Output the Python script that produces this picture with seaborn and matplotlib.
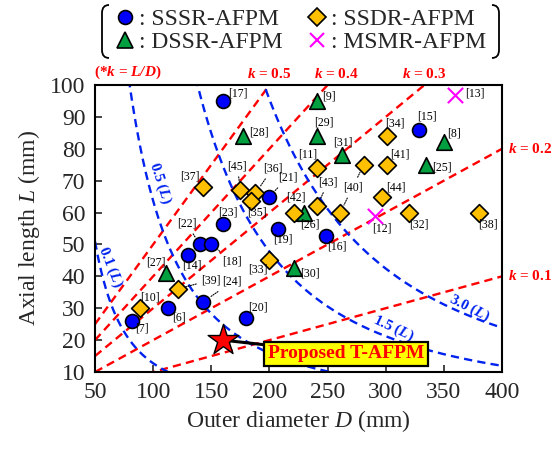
import numpy as np
import pandas as pd
import matplotlib
matplotlib.use("Agg")
import matplotlib.pyplot as plt
from matplotlib.lines import Line2D
from matplotlib.path import Path
from matplotlib.patches import PathPatch
import seaborn as sns

# ---------------- data ----------------
sssr_D = [160, 200, 160, 140, 150, 130, 143, 113, 82, 180, 207, 249, 329]
sssr_L = [95, 65, 56.5, 50, 50, 46.7, 32, 30, 26, 27, 55, 52.5, 86]
sssr_ref = ['[17]', '[21]', '[23]', '[22]', '[18]', '[14]', '[24]', '[6]', '[7]',
            '[20]', '[19]', '[16]', '[15]']

dssr_D = [177, 241, 241, 262, 350, 335, 230, 221, 111]
dssr_L = [84, 95, 84, 78, 82, 75, 60, 42.5, 41]
dssr_ref = ['[28]', '[9]', '[29]', '[31]', '[8]', '[25]', '[26]', '[30]', '[27]']

ssdr_D = [143, 175, 188, 184, 221, 241, 241, 281, 261, 301, 301, 297, 320, 380, 200, 121, 89]
ssdr_L = [68, 67, 66, 63.5, 60, 74, 62, 75, 60, 84, 75, 65, 60, 60, 45, 36, 30]
ssdr_ref = ['[37]', '[45]', '[36]', '[35]', '[42]', '[11]', '[43]', '[40]', '[40]',
            '[34]', '[41]', '[44]', '[32]', '[38]', '[33]', '[39]', '[10]']

msmr_D = [360, 291]
msmr_L = [97, 59]
msmr_ref = ['[13]', '[12]']

proposed_D = [160]
proposed_L = [20]
proposed_label = 'Proposed T-AFPM'

k_values = [0.1, 0.2, 0.3, 0.4, 0.5]
volumes = [0.1, 0.5, 1.5, 3.0]   # litres

x_ticks = [50, 100, 150, 200, 250, 300, 350, 400]
y_ticks = [10, 20, 30, 40, 50, 60, 70, 80, 90, 100]

# ---------------- layout (label offsets in pixels: dx, dy-down, leader) ----------------
sssr_off = [(15, -7, 0), (18, -19, 1), (5, -11, 0), (-13, -21, 1), (21, 17, 1), (4, 11, 0),
            (29, -20, 1), (11, 9, 0), (10, 8, 0), (12, -10, 0), (5, 11, 0), (10, 10, 0), (8, -13, 0)]
dssr_off = [(16, -4, 0), (12, -4, 0), (7, -14, 0), (1, -13, 0), (10, -9, 0), (16, 3, 0),
            (6, 12, 0), (16, 5, 0), (-10, -11, 0)]
ssdr_off = [(-13, -11, 0), (-3, -24, 1), (17, -25, 1), (6, 11, 0), (2, -15, 0), (-9, -13, 0),
            (11, -24, 1), (-11, 23, 1), (12, -25, 1), (8, -13, 0), (13, -10, 0), (14, -9, 0),
            (10, 12, 0), (9, 12, 0), (-12, 9, 0), (33, -9, 1), (10, -11, 0)]
msmr_off = [(19, -1, 0), (7, 13, 0)]

# ---------------- style ----------------
sns.set_style("ticks")
plt.rcParams['font.family'] = ['Liberation Serif', 'DejaVu Serif']
plt.rcParams['mathtext.fontset'] = 'custom'
plt.rcParams['mathtext.rm'] = 'Liberation Serif'
plt.rcParams['mathtext.it'] = 'Liberation Serif:italic'
plt.rcParams['mathtext.bf'] = 'Liberation Serif:bold'
plt.rcParams['mathtext.bfit'] = 'Liberation Serif:italic:bold'

W, H = 552, 449
fig = plt.figure(figsize=(W / 100, H / 100), dpi=100)
ax = fig.add_axes([95 / W, 1 - 372 / H, (502 - 95) / W, (372 - 85) / H])
ax.set_xlim(50, 400)
ax.set_ylim(10, 100)

PX = 72 / 100.0  # pixels -> points

# reference lines k = L/D
Dgrid = np.linspace(50, 400, 400)
for k in k_values:
    sns.lineplot(x=Dgrid, y=k * Dgrid, ax=ax, color='red', lw=1.7,
                 linestyle=(0, (3.5, 2.2)), zorder=1, legend=False)

# constant-volume curves
Dgrid2 = np.linspace(50, 400, 800)
for v in volumes:
    Lc = v * 1e6 / (np.pi / 4 * Dgrid2 ** 2)
    sns.lineplot(x=Dgrid2, y=Lc, ax=ax, color='#0022ee', lw=1.7,
                 linestyle=(0, (3.5, 2.2)), zorder=1, legend=False)

# k labels
tk = dict(color='red', fontsize=11, fontweight='bold', annotation_clip=False)
for k in k_values:
    if k >= 0.3:
        dx = 6 if abs(k - 0.4) < 1e-9 else 0
        ax.annotate(r'$\mathbfit{k}$ = %.1f' % k, xy=(100 / k, 100), xytext=(dx, 3),
                    textcoords='offset points', ha='center', va='bottom', **tk)
    else:
        ax.annotate(r'$\mathbfit{k}$ = %.1f' % k, xy=(400, 400 * k), xytext=(4, 0),
                    textcoords='offset points', ha='left', va='center', **tk)
ax.annotate(r'(*$\mathbfit{k}$ = $\mathbfit{L/D}$)', xy=(50, 100), xytext=(-1, 3),
            textcoords='offset points', ha='left', va='bottom', **tk)

# volume labels
vol_lab = [(63, 43, -68), (106, 69.3, -72), (307, 23.6, -25), (372, 30.1, -27)]
for v, (xd, yd, rot) in zip(volumes, vol_lab):
    ax.text(xd, yd, r'%.1f ($\mathbfit{L}$)' % v, color='#0022ee', fontsize=11,
            fontweight='bold', rotation=rot,
            rotation_mode='anchor', ha='center', va='center', zorder=2)

# scatter series
series = [
    (sssr_D, sssr_L, 'o', '#0000ff', 100),
    (dssr_D, dssr_L, '^', '#00a040', 125),
    (ssdr_D, ssdr_L, 'D', '#ffc000', 82),
]
for Ds, Ls, mk, col, s in series:
    df = pd.DataFrame({'D': Ds, 'L': Ls})
    sns.scatterplot(data=df, x='D', y='L', marker=mk, color=col, s=s,
                    edgecolor='black', linewidth=1.2, ax=ax, zorder=4, legend=False)

dfm = pd.DataFrame({'D': msmr_D, 'L': msmr_L})
sns.scatterplot(data=dfm, x='D', y='L', marker='x', color='#ff00ff', s=120,
                linewidth=1.5, ax=ax, zorder=4, legend=False)

# reference labels
drawn = set()
for Ds, Ls, refs, offs in [(sssr_D, sssr_L, sssr_ref, sssr_off),
                           (dssr_D, dssr_L, dssr_ref, dssr_off),
                           (ssdr_D, ssdr_L, ssdr_ref, ssdr_off),
                           (msmr_D, msmr_L, msmr_ref, msmr_off)]:
    for d, l, r, (dx, dy, lead) in zip(Ds, Ls, refs, offs):
        col = 'none' if r in drawn else 'black'
        drawn.add(r)
        ap = dict(arrowstyle='-', linestyle=(0, (1, 1.2)), lw=0.8, color='black',
                  shrinkA=1, shrinkB=6) if lead else None
        ax.annotate(r, xy=(d, l), xytext=(dx * PX, -dy * PX), textcoords='offset points',
                    ha='center', va='center', fontsize=8.5, color=col,
                    arrowprops=ap, zorder=5)

# proposed
dfp = pd.DataFrame({'D': proposed_D, 'L': proposed_L})
sns.scatterplot(data=dfp, x='D', y='L', marker='*', color='red', s=540,
                edgecolor='black', linewidth=1.0, ax=ax, zorder=7, legend=False)
ax.annotate(proposed_label, xy=(proposed_D[0], proposed_L[0]),
            xytext=(123.3 * PX, -13.8 * PX), textcoords='offset points',
            ha='center', va='center', fontsize=14, fontweight='bold', color='red',
            bbox=dict(boxstyle='square,pad=0.2', fc='yellow', ec='black', lw=1.6),
            arrowprops=dict(arrowstyle='-', color='black', lw=2.2, shrinkA=0, shrinkB=4),
            zorder=6)

# axes styling
ax.set_xticks(x_ticks)
ax.set_yticks(y_ticks)
ax.tick_params(direction='in', length=5, width=1.2, labelsize=17, pad=7,
               top=False, right=False)
for sp in ax.spines.values():
    sp.set_linewidth(1.5)
    sp.set_color('black')
ax.set_xlabel(r'Outer diameter $D$ (mm)', fontsize=17, labelpad=4)
ax.set_ylabel(r'Axial length $L$ (mm)', fontsize=17, labelpad=6)

# legend
handles = [
    Line2D([], [], ls='none', marker='o', mfc='#0000ff', mec='black', mew=1.2, ms=10),
    Line2D([], [], ls='none', marker='^', mfc='#00a040', mec='black', mew=1.2, ms=11),
    Line2D([], [], ls='none', marker='D', mfc='#ffc000', mec='black', mew=1.2, ms=9),
    Line2D([], [], ls='none', marker='x', mec='#ff00ff', mew=1.5, ms=10),
]
labels = [': SSSR-AFPM', ': DSSR-AFPM', ': SSDR-AFPM', ': MSMR-AFPM']
fig.legend(handles, labels, ncol=2, loc='center', bbox_to_anchor=(300 / W, 1 - 31 / H),
           frameon=False, fontsize=17, handlelength=0.9, handletextpad=0.15,
           columnspacing=1.0, labelspacing=0.05, borderpad=0.0)

# parentheses around legend
def paren(x0, x1, y0, y1):
    r = 8
    verts = [(x1, y0), (x0, y0), (x0, y0 + r), (x0, y1 - r), (x0, y1), (x1, y1)]
    verts = [(x / W, 1 - y / H) for x, y in verts]
    codes = [Path.MOVETO, Path.CURVE3, Path.CURVE3, Path.LINETO, Path.CURVE3, Path.CURVE3]
    fig.add_artist(PathPatch(Path(verts, codes), fc='none', ec='black', lw=1.3,
                             transform=fig.transFigure))

paren(102, 109, 5, 58)
paren(499, 492, 5, 58)

fig.savefig('out.png', dpi=100)
